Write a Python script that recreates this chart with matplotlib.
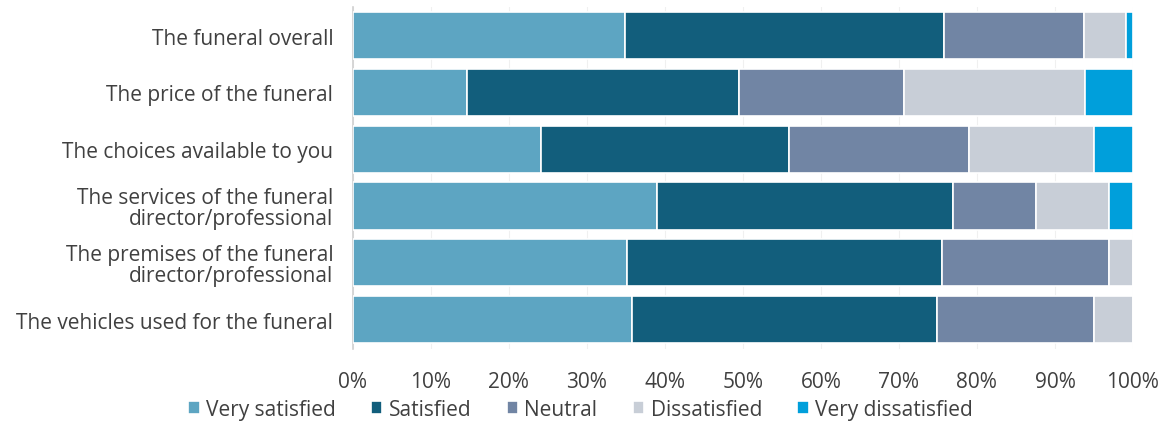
import matplotlib
matplotlib.use("Agg")
import matplotlib.pyplot as plt
import numpy as np
from matplotlib.ticker import PercentFormatter

categories = [
    "The funeral overall",
    "The price of the funeral",
    "The choices available to you",
    "The services of the funeral\ndirector/professional",
    "The premises of the funeral\ndirector/professional",
    "The vehicles used for the funeral",
]
series = ["Very satisfied", "Satisfied", "Neutral", "Dissatisfied", "Very dissatisfied"]
very_satisfied = [34.9, 14.6, 24.1, 39.0, 35.1, 35.8]
satisfied = [40.9, 34.9, 31.8, 37.9, 40.4, 39.1]
neutral = [17.9, 21.1, 23.1, 10.7, 21.4, 20.1]
dissatisfied = [5.4, 23.2, 16.0, 9.3, 3.1, 5.0]
very_dissatisfied = [0.9, 6.2, 5.0, 3.1, 0.0, 0.0]
colors = ["#5da5c2", "#125e7c", "#7185a4", "#c8ced7", "#009fdb"]

plt.rcParams['font.family'] = ['Open Sans', 'DejaVu Sans']
text_color = "#404040"

fig = plt.figure(figsize=(11.68, 4.27), dpi=100)
ax = fig.add_axes([0.302, 0.18, 0.668, 0.801])

y = np.arange(len(categories))
left = np.zeros(len(categories))
for name, vals, c in zip(series,
                         [very_satisfied, satisfied, neutral, dissatisfied, very_dissatisfied],
                         colors):
    vals = np.array(vals)
    ax.barh(y, vals, left=left, height=0.83, color=c, edgecolor="white",
            linewidth=1.2, label=name, zorder=3)
    left += vals

ax.set_xlim(0, 100)
ax.set_ylim(5.52, -0.5)
ax.set_yticks(y)
ax.set_yticklabels(categories, fontsize=15, color=text_color, linespacing=1.0)
ax.set_xticks(np.arange(0, 101, 10))
ax.xaxis.set_major_formatter(PercentFormatter(decimals=0))
ax.tick_params(axis="x", labelsize=15, colors=text_color, length=0, pad=16)
ax.tick_params(axis="y", length=0, pad=14)
ax.grid(axis="x", color="#f0f0f0", linewidth=0.8, zorder=0)
for s in ["top", "right", "bottom"]:
    ax.spines[s].set_visible(False)
ax.spines["left"].set_color("#d0d0d0")
ax.spines["left"].set_linewidth(1.2)

leg = fig.legend(loc="lower center", bbox_to_anchor=(0.497, -0.03), ncol=5, frameon=False,
                 fontsize=15, handlelength=0.55, handleheight=0.55, handletextpad=0.3,
                 columnspacing=1.7, labelcolor=text_color)

fig.savefig("out.png", dpi=100)
